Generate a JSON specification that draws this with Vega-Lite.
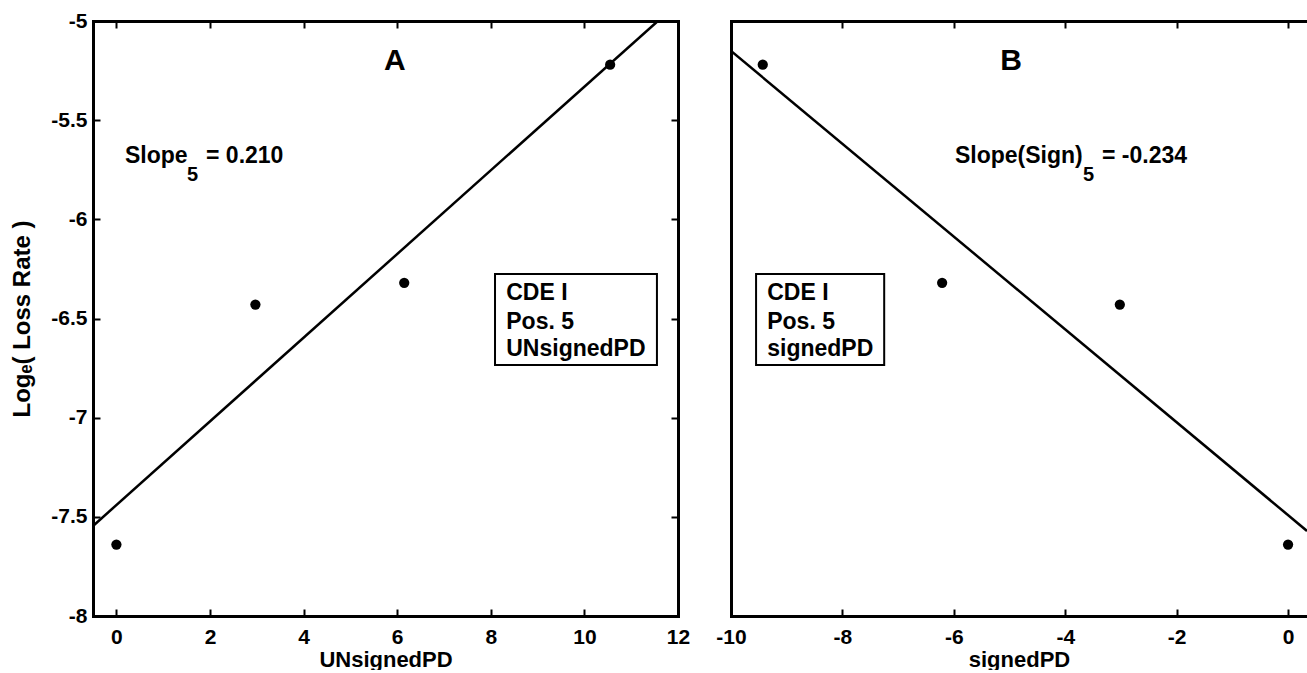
{
  "$schema": "https://vega.github.io/schema/vega-lite/v6.json",
  "padding": {"left": 10, "top": 10, "right": 0, "bottom": 0},
  "spacing": 25,
  "config": {
    "locale": {"number": {"decimal": ".", "thousands": ",", "grouping": [3], "currency": ["$", ""], "minus": "-"}},
    "font": "Liberation Sans",
    "view": {"stroke": null},
    "axis": {
      "labelFont": "Liberation Sans", "labelFontSize": 21, "labelFontWeight": "bold", "labelColor": "black",
      "titleFont": "Liberation Sans", "titleFontSize": 22, "titleFontWeight": "bold", "titleColor": "black",
      "tickColor": "black", "tickWidth": 2, "tickSize": -7,
      "domainColor": "black", "domainWidth": 3, "domainCap": "square",
      "grid": false, "labelFlush": false, "labelOverlap": false, "format": "~r"
    }
  },
  "datasets": {
    "ptsA": [{"x": 0, "y": -7.64}, {"x": 2.97, "y": -6.43}, {"x": 6.15, "y": -6.32}, {"x": 10.55, "y": -5.22}],
    "lineA": [{"x": -0.5, "y": -7.546}, {"x": 11.57, "y": -5.0}],
    "titleA": [{"x": 5.95, "y": -5.247, "t": "A"}],
    "textA": [{"x": 0.184, "y": -5.716, "t": "Slope"}, {"x": 1.915, "y": -5.716, "t": "= 0.210"},
              {"x": 8.33, "y": -6.407, "t": "CDE I"}, {"x": 8.33, "y": -6.553, "t": "Pos. 5"}, {"x": 8.33, "y": -6.689, "t": "UNsignedPD"}],
    "subA": [{"x": 1.51, "y": -5.807, "t": "5"}],
    "boxA": [{"x1": 8.09, "x2": 11.55, "y1": -6.276, "y2": -6.734}],
    "ptsB": [{"x": -9.43, "y": -5.22}, {"x": -6.21, "y": -6.32}, {"x": -3.02, "y": -6.43}, {"x": 0, "y": -7.64}],
    "lineB": [{"x": -10, "y": -5.151}, {"x": 0.34, "y": -7.571}],
    "titleB": [{"x": -4.97, "y": -5.247, "t": "B"}],
    "textB": [{"x": -5.98, "y": -5.716, "t": "Slope(Sign)"}, {"x": -3.34, "y": -5.716, "t": "= -0.234"},
              {"x": -9.35, "y": -6.407, "t": "CDE I"}, {"x": -9.35, "y": -6.553, "t": "Pos. 5"}, {"x": -9.35, "y": -6.689, "t": "signedPD"}],
    "subB": [{"x": -3.68, "y": -5.807, "t": "5"}],
    "boxB": [{"x1": -9.55, "x2": -7.25, "y1": -6.276, "y2": -6.734}]
  },
  "hconcat": [
    {
      "width": 585, "height": 595,
      "resolve": {"axis": {"x": "independent", "y": "independent"}},
      "layer": [
        {
          "data": {"name": "ptsA"},
          "mark": {"type": "circle", "size": 105, "color": "black", "opacity": 1},
          "encoding": {
            "x": {"field": "x", "type": "quantitative", "scale": {"domain": [-0.5, 12], "nice": false, "zero": false},
                  "axis": {"orient": "bottom", "values": [0, 2, 4, 6, 8, 10, 12], "labelPadding": 17, "title": "UNsignedPD", "titlePadding": 2}},
            "y": {"field": "y", "type": "quantitative", "scale": {"domain": [-8, -5], "nice": false, "zero": false},
                  "axis": {"orient": "left", "values": [-8, -7.5, -7, -6.5, -6, -5.5, -5], "labelPadding": 13, "title": "Logₑ( Loss Rate )", "titlePadding": 16, "titleFontSize": 24}}
          }
        },
        {
          "data": {"name": "lineA"},
          "mark": {"type": "line", "color": "black", "strokeWidth": 2.5, "clip": true},
          "encoding": {
            "x": {"field": "x", "type": "quantitative", "scale": {"domain": [-0.5, 12], "nice": false, "zero": false},
                  "axis": {"orient": "top", "values": [0, 2, 4, 6, 8, 10, 12], "labels": false, "title": null}},
            "y": {"field": "y", "type": "quantitative", "scale": {"domain": [-8, -5], "nice": false, "zero": false},
                  "axis": {"orient": "right", "values": [-8, -7.5, -7, -6.5, -6, -5.5, -5], "labels": false, "title": null}}
          }
        },
        {
          "data": {"name": "boxA"},
          "mark": {"type": "rect", "fill": "white", "stroke": "black", "strokeWidth": 2},
          "encoding": {
            "x": {"field": "x1", "type": "quantitative", "scale": {"domain": [-0.5, 12], "nice": false, "zero": false}, "axis": null},
            "x2": {"field": "x2"},
            "y": {"field": "y1", "type": "quantitative", "scale": {"domain": [-8, -5], "nice": false, "zero": false}, "axis": null},
            "y2": {"field": "y2"}
          }
        },
        {
          "data": {"name": "titleA"},
          "mark": {"type": "text", "font": "Liberation Sans", "fontWeight": "bold", "fontSize": 30, "align": "center", "baseline": "alphabetic", "color": "black"},
          "encoding": {
            "x": {"field": "x", "type": "quantitative", "scale": {"domain": [-0.5, 12], "nice": false, "zero": false}, "axis": null},
            "y": {"field": "y", "type": "quantitative", "scale": {"domain": [-8, -5], "nice": false, "zero": false}, "axis": null},
            "text": {"field": "t"}
          }
        },
        {
          "data": {"name": "textA"},
          "mark": {"type": "text", "font": "Liberation Sans", "fontWeight": "bold", "fontSize": 23, "align": "left", "baseline": "alphabetic", "color": "black"},
          "encoding": {
            "x": {"field": "x", "type": "quantitative", "scale": {"domain": [-0.5, 12], "nice": false, "zero": false}, "axis": null},
            "y": {"field": "y", "type": "quantitative", "scale": {"domain": [-8, -5], "nice": false, "zero": false}, "axis": null},
            "text": {"field": "t"}
          }
        },
        {
          "data": {"name": "subA"},
          "mark": {"type": "text", "font": "Liberation Sans", "fontWeight": "bold", "fontSize": 20, "align": "left", "baseline": "alphabetic", "color": "black"},
          "encoding": {
            "x": {"field": "x", "type": "quantitative", "scale": {"domain": [-0.5, 12], "nice": false, "zero": false}, "axis": null},
            "y": {"field": "y", "type": "quantitative", "scale": {"domain": [-8, -5], "nice": false, "zero": false}, "axis": null},
            "text": {"field": "t"}
          }
        }
      ]
    },
    {
      "width": 576, "height": 595,
      "resolve": {"axis": {"x": "independent", "y": "independent"}},
      "layer": [
        {
          "data": {"name": "ptsB"},
          "mark": {"type": "circle", "size": 105, "color": "black", "opacity": 1},
          "encoding": {
            "x": {"field": "x", "type": "quantitative", "scale": {"domain": [-10, 0.34], "nice": false, "zero": false},
                  "axis": {"orient": "bottom", "values": [-10, -8, -6, -4, -2, 0], "labelPadding": 17, "title": "signedPD", "titlePadding": 2}},
            "y": {"field": "y", "type": "quantitative", "scale": {"domain": [-8, -5], "nice": false, "zero": false},
                  "axis": {"orient": "left", "ticks": false, "labels": false, "title": null}}
          }
        },
        {
          "data": {"name": "lineB"},
          "mark": {"type": "line", "color": "black", "strokeWidth": 2.5, "clip": true},
          "encoding": {
            "x": {"field": "x", "type": "quantitative", "scale": {"domain": [-10, 0.34], "nice": false, "zero": false},
                  "axis": {"orient": "top", "values": [-10, -8, -6, -4, -2, 0], "labels": false, "title": null}},
            "y": {"field": "y", "type": "quantitative", "scale": {"domain": [-8, -5], "nice": false, "zero": false}, "axis": null}
          }
        },
        {
          "data": {"name": "boxB"},
          "mark": {"type": "rect", "fill": "white", "stroke": "black", "strokeWidth": 2},
          "encoding": {
            "x": {"field": "x1", "type": "quantitative", "scale": {"domain": [-10, 0.34], "nice": false, "zero": false}, "axis": null},
            "x2": {"field": "x2"},
            "y": {"field": "y1", "type": "quantitative", "scale": {"domain": [-8, -5], "nice": false, "zero": false}, "axis": null},
            "y2": {"field": "y2"}
          }
        },
        {
          "data": {"name": "titleB"},
          "mark": {"type": "text", "font": "Liberation Sans", "fontWeight": "bold", "fontSize": 30, "align": "center", "baseline": "alphabetic", "color": "black"},
          "encoding": {
            "x": {"field": "x", "type": "quantitative", "scale": {"domain": [-10, 0.34], "nice": false, "zero": false}, "axis": null},
            "y": {"field": "y", "type": "quantitative", "scale": {"domain": [-8, -5], "nice": false, "zero": false}, "axis": null},
            "text": {"field": "t"}
          }
        },
        {
          "data": {"name": "textB"},
          "mark": {"type": "text", "font": "Liberation Sans", "fontWeight": "bold", "fontSize": 23, "align": "left", "baseline": "alphabetic", "color": "black"},
          "encoding": {
            "x": {"field": "x", "type": "quantitative", "scale": {"domain": [-10, 0.34], "nice": false, "zero": false}, "axis": null},
            "y": {"field": "y", "type": "quantitative", "scale": {"domain": [-8, -5], "nice": false, "zero": false}, "axis": null},
            "text": {"field": "t"}
          }
        },
        {
          "data": {"name": "subB"},
          "mark": {"type": "text", "font": "Liberation Sans", "fontWeight": "bold", "fontSize": 20, "align": "left", "baseline": "alphabetic", "color": "black"},
          "encoding": {
            "x": {"field": "x", "type": "quantitative", "scale": {"domain": [-10, 0.34], "nice": false, "zero": false}, "axis": null},
            "y": {"field": "y", "type": "quantitative", "scale": {"domain": [-8, -5], "nice": false, "zero": false}, "axis": null},
            "text": {"field": "t"}
          }
        }
      ]
    }
  ]
}
